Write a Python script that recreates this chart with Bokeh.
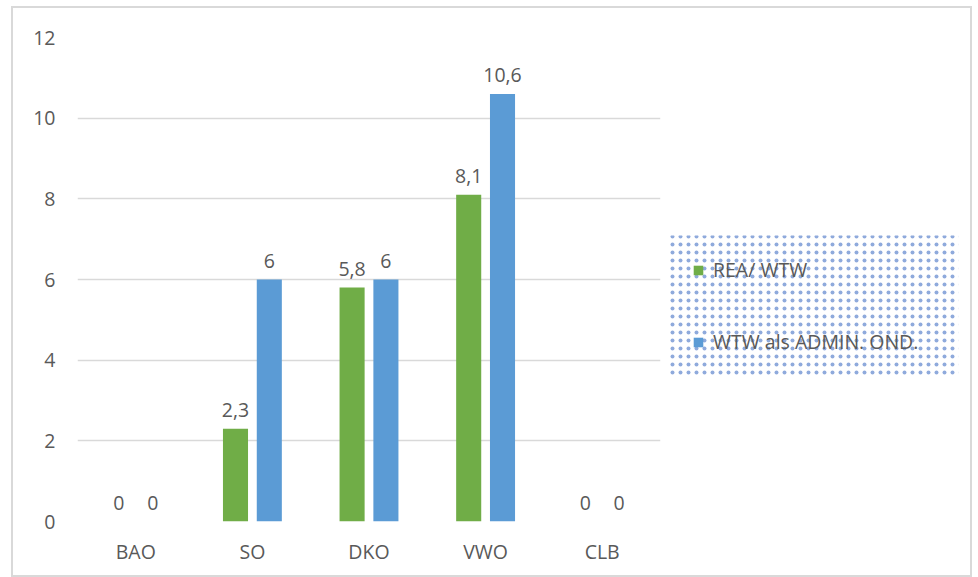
from bokeh.plotting import figure
from bokeh.layouts import row
from bokeh.models import ColumnDataSource, Legend, LegendItem, FixedTicker, Range1d
from bokeh.transform import dodge
from bokeh.core.properties import value
from bokeh.embed import file_html
from bokeh.resources import INLINE

categories = ["BAO", "SO", "DKO", "VWO", "CLB"]
rea_wtw = [0, 2.3, 5.8, 8.1, 0]
wtw_admin = [0, 6, 6, 10.6, 0]
series_names = ["REA/ WTW", "WTW als ADMIN. OND."]
y_ticks = [0, 2, 4, 6, 8, 10, 12]

GREEN = "#70AD47"
BLUE = "#5B9BD5"
TXT = "#595959"
GRID = "#D9D9D9"
FONT = "Open Sans"
FS = "19.5px"

def fmt(v):
    return ("%g" % v).replace(".", ",")

src = ColumnDataSource(dict(
    cats=categories,
    rea=rea_wtw,
    wtw=wtw_admin,
    rea_lbl=[fmt(v) for v in rea_wtw],
    wtw_lbl=[fmt(v) for v in wtw_admin],
))

TOP, BOTTOM = 29, 54

# main chart
p = figure(x_range=categories, y_range=(0, 12), width=655, height=567,
           output_backend="svg", toolbar_location=None,
           min_border_left=64, min_border_right=8, min_border_top=TOP, min_border_bottom=BOTTOM)
p.outline_line_color = None
p.x_range.range_padding = 0

p.vbar(x=dodge("cats", -0.145, range=p.x_range), top="rea", width=0.215,
       source=src, fill_color=GREEN, line_color=None)
p.vbar(x=dodge("cats", 0.145, range=p.x_range), top="wtw", width=0.215,
       source=src, fill_color=BLUE, line_color=None)

for col, ycol, off in (("rea_lbl", "rea", -0.145), ("wtw_lbl", "wtw", 0.145)):
    p.text(x=dodge("cats", off, range=p.x_range), y=ycol, text=col, source=src,
           text_align="center", text_baseline="alphabetic", y_offset=-19,
           text_font=value(FONT), text_font_size=FS, text_color=TXT)

p.xgrid.grid_line_color = None
p.ygrid.grid_line_color = GRID
p.ygrid.grid_line_width = 1.5
p.yaxis.ticker = FixedTicker(ticks=y_ticks)

for ax in (p.xaxis, p.yaxis):
    ax.axis_line_color = None
    ax.major_tick_line_color = None
    ax.minor_tick_line_color = None
    ax.major_tick_out = 0
    ax.major_tick_in = 0
    ax.major_label_text_font = FONT
    ax.major_label_text_font_size = FS
    ax.major_label_text_color = TXT
p.yaxis.major_label_standoff = 22
p.xaxis.major_label_standoff = 16

# legend panel with dotted background (frame aligned with the chart frame, pixel scale)
q = figure(width=302, height=567, x_range=Range1d(0, 290), y_range=Range1d(484, 0),
           output_backend="svg", toolbar_location=None,
           x_axis_type=None, y_axis_type=None,
           min_border_left=0, min_border_right=12, min_border_top=TOP, min_border_bottom=BOTTOM)
q.outline_line_color = None
q.xgrid.visible = False
q.ygrid.visible = False
q.quad(left=[0], right=[290], top=[198], bottom=[338], fill_alpha=0, line_color=None,
       hatch_pattern="dot", hatch_color="#4472C4", hatch_scale=8, hatch_weight=1.6,
       hatch_alpha=0.6)
g1 = q.vbar(x=[-100], top=[-100], width=1, fill_color=GREEN, line_color=None)
g2 = q.vbar(x=[-100], top=[-100], width=1, fill_color=BLUE, line_color=None)

legend = Legend(items=[LegendItem(label=series_names[0], renderers=[g1]),
                       LegendItem(label=series_names[1], renderers=[g2])],
                location=(3, 145), orientation="vertical",
                background_fill_alpha=0, border_line_color="white", border_line_alpha=0,
                label_text_font=FONT, label_text_font_size=FS, label_text_color=TXT,
                glyph_width=12, glyph_height=12, label_height=18, spacing=45,
                padding=21, margin=0, label_standoff=9)
q.add_layout(legend)

layout = row(p, q, styles={"border": "2px solid #D9D9D9", "margin": "6px 0 0 11px"})

open("out.html", "w").write(file_html(layout, INLINE))
